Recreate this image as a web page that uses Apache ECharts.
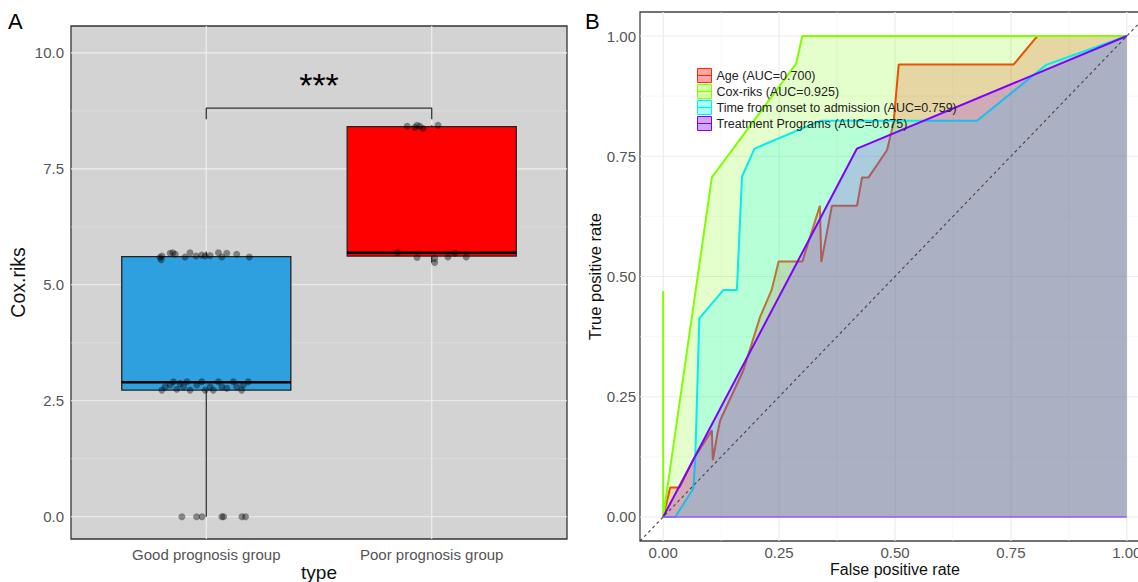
<!DOCTYPE html>
<html><head><meta charset="utf-8">
<script src="https://cdn.jsdelivr.net/npm/echarts@6/dist/echarts.min.js"></script>
<style>html,body{margin:0;padding:0;background:#fff}#c{width:1138px;height:582px}</style>
</head><body><div id="c"></div>
<script>
// ---------- Panel A data ----------
const categories = ['Good prognosis group', 'Poor prognosis group'];
// box statistics: [min, Q1, median, Q3, max]
const boxGood = [0, 2.73, 2.90, 5.61, 5.72];
const boxPoor = [5.48, 5.62, 5.69, 8.41, 8.44];
// jittered points: [offset from category centre, value]
const goodPoints = [
  [-0.205,5.59],[-0.197,5.62],[-0.160,5.68],[-0.148,5.69],[-0.138,5.66],[-0.094,5.60],[-0.072,5.69],[-0.045,5.62],
  [-0.020,5.64],[-0.005,5.62],[0.017,5.63],[0.054,5.69],[0.069,5.60],[0.091,5.68],[0.135,5.66],[0.191,5.60],[-0.200,5.54],
  [-0.197,2.73],[-0.182,2.80],[-0.160,2.84],[-0.146,2.91],[-0.131,2.75],[-0.116,2.87],[-0.101,2.80],[-0.086,2.91],
  [-0.072,2.73],[-0.042,2.84],[-0.020,2.91],[-0.005,2.73],[0.017,2.80],[0.031,2.73],[0.054,2.91],[0.069,2.80],
  [0.091,2.77],[0.120,2.91],[0.135,2.80],[0.157,2.73],[0.164,2.84],[0.186,2.91],
  [-0.108,0],[-0.043,0],[-0.019,0],[0.069,0],[0.077,0],[0.158,0],[0.174,0]
];
const poorPoints = [
  [-0.109,8.42],[-0.075,8.39],[-0.065,8.44],[-0.053,8.42],[-0.039,8.37],[0.028,8.44],
  [-0.152,5.69],[-0.065,5.59],[0.013,5.57],[0.013,5.48],[0.072,5.60],[0.102,5.68],[0.153,5.60]
];
const leftYTicks = [0, 2.5, 5, 7.5, 10];
const sigText = '***';
const sigLabelY = 9.31;
const bracketLow = 8.57, bracketHigh = 8.81;

// ---------- Panel B data ----------
const rocNames = ['Age (AUC=0.700)', 'Cox-riks (AUC=0.925)', 'Time from onset to admission (AUC=0.759)', 'Treatment Programs (AUC=0.675)'];
const rocAge = [[0,0],[0.015,0.061],[0.035,0.061],[0.066,0.121],[0.105,0.180],[0.107,0.118],[0.117,0.173],[0.123,0.201],
  [0.173,0.305],[0.209,0.416],[0.234,0.472],[0.249,0.531],[0.300,0.531],[0.338,0.647],[0.341,0.530],[0.364,0.647],
  [0.418,0.647],[0.429,0.706],[0.443,0.706],[0.483,0.763],[0.497,0.820],[0.508,0.941],[0.756,0.941],[0.807,1],[1,1]];
const rocCox = [[0,0.47],[0,0],[0.105,0.706],[0.287,0.943],[0.300,1],[1,1]];
const rocTime = [[0,0],[0.026,0],[0.065,0.059],[0.069,0.118],[0.078,0.413],[0.130,0.472],[0.159,0.472],[0.170,0.708],
  [0.197,0.766],[0.340,0.824],[0.677,0.824],[0.826,0.940],[1,1]];
const rocTreat = [[0,0],[0.418,0.766],[1,1]];
const rocTicks = [0, 0.25, 0.5, 0.75, 1];

const rocData = [rocAge, rocCox, rocTime, rocTreat];
const rocLine = ['#FF2A00', '#7FFF00', '#00EEEE', '#7F00FF'];
const rocFill = ['rgba(255,0,0,0.2)', 'rgba(127,255,0,0.2)', 'rgba(0,255,255,0.2)', 'rgba(127,0,255,0.2)'];
const boxColors = ['#2E9FDF', '#FF0000'];
const FONT = 'Liberation Sans';

function mids(t){ const m=[]; for(let i=0;i<t.length-1;i++) m.push((t[i]+t[i+1])/2); return m; }
function isMult(v, step){ const r=v/step; return Math.abs(r-Math.round(r))<1e-6; }

const leftGridLines = [];
leftYTicks.forEach(v=>leftGridLines.push([v,0,1]));
mids(leftYTicks).forEach(v=>leftGridLines.push([v,0,0]));
[1,2].forEach(v=>leftGridLines.push([v,1,1]));
const rightGridLines = [];
rocTicks.forEach(v=>{rightGridLines.push([v,0,1]); rightGridLines.push([v,1,1]);});
mids(rocTicks).forEach(v=>{rightGridLines.push([v,0,0]); rightGridLines.push([v,1,0]);});

function gridRenderer(majorColor, minorColor){
  return function(params, api){
    const v=api.value(0), dir=api.value(1), major=api.value(2);
    const cs=params.coordSys;
    let shape;
    if(dir===0){ const y=api.coord([0,v])[1]; shape={x1:cs.x,y1:y,x2:cs.x+cs.width,y2:y}; }
    else { const x=api.coord([v,0])[0]; shape={x1:x,y1:cs.y,x2:x,y2:cs.y+cs.height}; }
    return {type:'line', shape, style:{stroke: major?majorColor:minorColor, lineWidth: major?1.1:0.6}};
  };
}

const chart = echarts.init(document.getElementById('c'), null, {renderer:'svg'});
const axisLabelStyle = {color:'#555', fontSize:15, fontFamily:FONT};

const series = [
  {type:'custom', xAxisIndex:0, yAxisIndex:0, data:leftGridLines, renderItem:gridRenderer('#EFEFEF','#E2E2E2'), z:1, silent:true},
  {type:'custom', xAxisIndex:0, yAxisIndex:0, z:2, silent:true,
   data:[[1].concat(boxGood),[2].concat(boxPoor)],
   renderItem:function(params, api){
     const x=api.value(0), mn=api.value(1), q1=api.value(2), md=api.value(3), q3=api.value(4), mx=api.value(5);
     const hw=0.375;
     const tl=api.coord([x-hw,q3]), br=api.coord([x+hw,q1]);
     const cTop=api.coord([x,mx]), cQ3=api.coord([x,q3]), cQ1=api.coord([x,q1]), cBot=api.coord([x,mn]);
     const mL=api.coord([x-hw,md]), mR=api.coord([x+hw,md]);
     return {type:'group', children:[
       {type:'line', shape:{x1:cTop[0],y1:cTop[1],x2:cQ3[0],y2:cQ3[1]}, style:{stroke:'#333',lineWidth:1.3}},
       {type:'line', shape:{x1:cQ1[0],y1:cQ1[1],x2:cBot[0],y2:cBot[1]}, style:{stroke:'#333',lineWidth:1.3}},
       {type:'rect', shape:{x:tl[0],y:tl[1],width:br[0]-tl[0],height:br[1]-tl[1]}, style:{fill:boxColors[params.dataIndex],stroke:'#222',lineWidth:1.3}},
       {type:'line', shape:{x1:mL[0],y1:mL[1],x2:mR[0],y2:mR[1]}, style:{stroke:'#000',lineWidth:2.6}}
     ]};
   }},
  {type:'scatter', xAxisIndex:0, yAxisIndex:0, z:3, silent:true, symbolSize:7,
   itemStyle:{color:'rgba(0,0,0,0.5)'},
   data: goodPoints.map(p=>[1+p[0],p[1]]).concat(poorPoints.map(p=>[2+p[0],p[1]]))},
  {type:'line', xAxisIndex:0, yAxisIndex:0, z:3, silent:true, symbol:'none',
   data:[[1,bracketLow],[1,bracketHigh],[2,bracketHigh],[2,bracketLow]],
   lineStyle:{color:'#333', width:1.3}},
  {type:'custom', xAxisIndex:0, yAxisIndex:0, z:4, silent:true, data:[[1.5, sigLabelY]],
   renderItem:function(params, api){
     const p=api.coord([api.value(0),api.value(1)]);
     return {type:'text', x:p[0], y:p[1], style:{text:sigText, fontSize:34, fontFamily:FONT, fill:'#000', align:'center', verticalAlign:'middle'}};
   }},
  {type:'custom', xAxisIndex:1, yAxisIndex:1, data:rightGridLines, renderItem:gridRenderer('#EBEBEB','#F3F3F3'), z:1, silent:true}
];
rocData.forEach((d,i)=>{
  series.push({type:'line', name:rocNames[i], xAxisIndex:1, yAxisIndex:1, data:d, symbol:'none', showSymbol:false,
    lineStyle:{color:rocLine[i], width:2}, itemStyle:{color:rocLine[i]}, areaStyle:{color:rocFill[i], opacity:1},
    z:2+i, silent:true});
});
series.push({type:'line', name:'baseline', xAxisIndex:1, yAxisIndex:1, data:[[0,0],[1,0]], symbol:'none',
  lineStyle:{color:'#9B55FF', width:1.6}, z:7, silent:true});
series.push({type:'line', name:'reference', xAxisIndex:1, yAxisIndex:1, data:[[-0.05,-0.05],[1.05,1.05]], symbol:'none',
  lineStyle:{color:'#444', width:1.1, type:[3,3]}, z:7, silent:true});

chart.setOption({
  animation:false,
  textStyle:{fontFamily:FONT},
  graphic:[
    {type:'text', left:8, top:10, style:{text:'A', fontSize:22, fontFamily:FONT, fill:'#000'}},
    {type:'text', left:585, top:10, style:{text:'B', fontSize:22, fontFamily:FONT, fill:'#000'}}
  ],
  grid:[
    {left:71, top:26, width:496, height:513, show:true, backgroundColor:'#D3D3D3', borderColor:'#333', borderWidth:1.3, containLabel:false, outerBoundsMode:'none'},
    {left:640, top:12, width:510, height:529, show:true, backgroundColor:'#FFFFFF', borderColor:'#444', borderWidth:1.3, containLabel:false, outerBoundsMode:'none'}
  ],
  xAxis:[
    {type:'value', gridIndex:0, min:0.4, max:2.6, interval:0.2,
     axisLine:{show:false}, axisTick:{show:false}, splitLine:{show:false},
     axisLabel:Object.assign({margin:8, showMinLabel:true, showMaxLabel:true, formatter:v=>{const r=Math.round(v); return (Math.abs(v-r)<1e-6 && r>=1 && r<=categories.length)?categories[r-1]:'';}}, axisLabelStyle),
     name:'type', nameLocation:'middle', nameGap:24, nameMoveOverlap:false, nameTextStyle:{fontSize:19, color:'#111', fontFamily:FONT}},
    {type:'value', gridIndex:1, min:-0.05, max:1.05, interval:0.05,
     axisLine:{show:false}, axisTick:{show:false}, splitLine:{show:false},
     axisLabel:Object.assign({margin:4, formatter:v=>(v>-1e-9 && isMult(v,0.25))?Math.abs(v).toFixed(2):''}, axisLabelStyle),
     name:'False positive rate', nameLocation:'middle', nameGap:20, nameMoveOverlap:false, nameTextStyle:{fontSize:16, color:'#111', fontFamily:FONT}}
  ],
  yAxis:[
    {type:'value', gridIndex:0, min:-0.48, max:10.58, interval:0.02,
     axisLine:{show:false}, axisTick:{show:false}, splitLine:{show:false},
     axisLabel:Object.assign({margin:7, formatter:v=>(v>-1e-9 && isMult(v,2.5))?Math.abs(v).toFixed(1):''}, axisLabelStyle),
     name:'Cox.riks', nameLocation:'middle', nameGap:43, nameMoveOverlap:false, nameTextStyle:{fontSize:19.5, color:'#111', fontFamily:FONT}},
    {type:'value', gridIndex:1, min:-0.05, max:1.05, interval:0.05,
     axisLine:{show:false}, axisTick:{show:false}, splitLine:{show:false},
     axisLabel:Object.assign({margin:4, formatter:v=>(v>-1e-9 && isMult(v,0.25))?Math.abs(v).toFixed(2):''}, axisLabelStyle),
     name:'True positive rate', nameLocation:'middle', nameGap:37, nameMoveOverlap:false, nameTextStyle:{fontSize:16.5, color:'#111', fontFamily:FONT}}
  ],
  legend:{orient:'vertical', left:697, top:68, itemWidth:14, itemHeight:14, itemGap:1, padding:0, selectedMode:false, z:10,
    textStyle:{fontSize:12.5, color:'#222', fontFamily:FONT},
    data: rocNames.map((n,i)=>({name:n, icon:'path://M0,0H14V14H0ZM0,7H14', itemStyle:{color:rocFill[i].replace('0.2)','0.35)'), borderColor:rocLine[i], borderWidth:1}}))},
  series: series
});
</script></body></html>
